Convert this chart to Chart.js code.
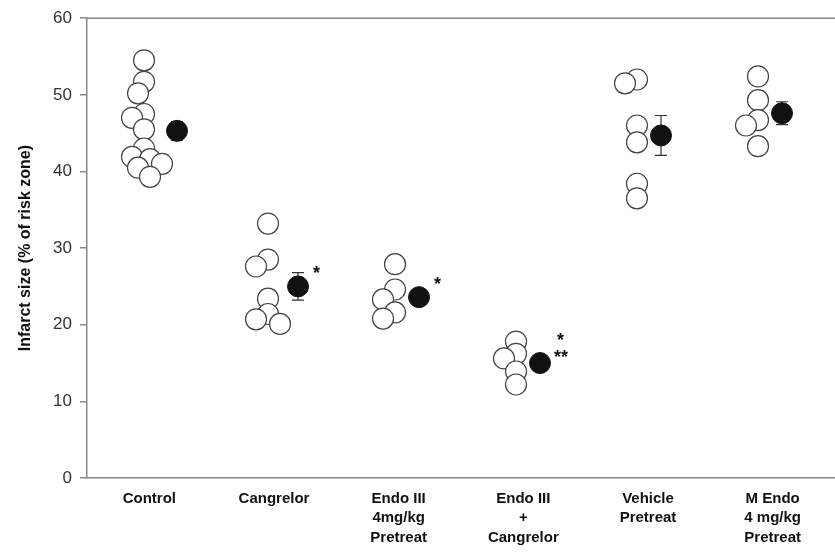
<!DOCTYPE html>
<html>
<head>
<meta charset="utf-8">
<script src="https://cdn.jsdelivr.net/npm/chart.js@4"></script>
<style>
  html, body { margin: 0; padding: 0; background: #fff; }
  #wrap { width: 835px; height: 553px; }
</style>
</head>
<body>
<div id="wrap"><canvas id="infarct-chart" width="835" height="553"></canvas></div>
<script>
// group labels (multi-line)
const groupLabels = [
    'Control',
    'Cangrelor',
    ['Endo III', '4mg/kg', 'Pretreat'],
    ['Endo III', '+', 'Cangrelor'],
    ['Vehicle', 'Pretreat'],
    ['M Endo', '4 mg/kg', 'Pretreat']
];

// individual animals, infarct size (% of risk zone)
const control    = [54.5, 51.7, 50.2, 47.5, 47.0, 45.5, 43.0, 41.9, 41.6, 41.0, 40.5, 39.3];
const cangrelor  = [33.2, 28.5, 27.6, 23.4, 21.4, 20.7, 20.1];
const endoIII    = [27.9, 24.6, 23.3, 21.6, 20.8];
const endoCang   = [17.8, 16.2, 15.6, 13.9, 12.2];
const vehicle    = [52.0, 51.5, 46.0, 43.8, 38.4, 36.5];
const mEndo      = [52.4, 49.3, 46.7, 46.0, 43.3];

// group mean and SEM
const groupMeans = [45.3, 25.0, 23.6, 15.0, 44.7, 47.6];
const groupSem   = [1.2, 1.8, 1.0, 0.9, 2.6, 1.5];

// significance marks next to the means
const sigMarks = ['', '*', '*', '*\n**', '', ''];

const yTicks = [0, 10, 20, 30, 40, 50, 60];

const groups = [control, cangrelor, endoIII, endoCang, vehicle, mEndo];

const FONT = '"Liberation Sans", Arial, Helvetica, sans-serif';
const MEAN_SHIFT = 0.248;   // filled dot sits right of the open dots

// simple greedy beeswarm: returns pixel x offsets for pixel y positions
function swarm(ys, minDist, step) {
    var placed = [];
    var offs = [];
    var cands = [0];
    for (var k = 1; k < 6; k++) { cands.push(-k * step, k * step); }
    ys.forEach(function(y) {
        var chosen = cands[cands.length - 1];
        for (var c = 0; c < cands.length; c++) {
            var ok = placed.every(function(p) {
                var dx = p.x - cands[c], dy = p.y - y;
                return Math.sqrt(dx * dx + dy * dy) >= minDist;
            });
            if (ok) { chosen = cands[c]; break; }
        }
        placed.push({x: chosen, y: y});
        offs.push(chosen);
    });
    // center the cluster on the group position
    var mid = (Math.max.apply(null, offs) + Math.min.apply(null, offs)) / 2;
    return offs.map(function(o) { return o - mid; });
}

// error bars behind the filled dots
const errorBars = {
    id: 'errorBars',
    beforeDatasetsDraw(chart) {
        const c = chart.ctx, xs = chart.scales.x, ys = chart.scales.y;
        c.save();
        c.strokeStyle = '#333';
        c.lineWidth = 1.2;
        groupMeans.forEach(function(m, i) {
            var x = xs.getPixelForValue(i + 1 + MEAN_SHIFT);
            var yt = ys.getPixelForValue(m + groupSem[i]);
            var yb = ys.getPixelForValue(m - groupSem[i]);
            c.beginPath();
            c.moveTo(x, yt); c.lineTo(x, yb);
            c.moveTo(x - 6, yt); c.lineTo(x + 6, yt);
            c.moveTo(x - 6, yb); c.lineTo(x + 6, yb);
            c.stroke();
        });
        c.restore();
    },
    afterDatasetsDraw(chart) {
        const c = chart.ctx, xs = chart.scales.x, ys = chart.scales.y;
        c.save();
        c.fillStyle = '#111';
        c.font = 'bold 18px ' + FONT;
        c.textAlign = 'left';
        c.textBaseline = 'middle';
        sigMarks.forEach(function(mark, i) {
            if (!mark) return;
            var x = xs.getPixelForValue(i + 1 + MEAN_SHIFT);
            var y = ys.getPixelForValue(groupMeans[i]);
            var lines = mark.split('\n');
            if (lines.length === 1) {
                c.fillText(lines[0], x + 15, y - 12);
            } else {
                c.fillText(lines[0], x + 17, y - 22);
                c.fillText(lines[1], x + 14, y - 5);
            }
        });
        // top frame line
        const a = chart.chartArea;
        c.strokeStyle = '#888';
        c.lineWidth = 1.5;
        c.beginPath();
        c.moveTo(a.left, a.top);
        c.lineTo(a.right, a.top);
        c.stroke();
        c.restore();
    }
};

var openPoints = [];
var meanPoints = groupMeans.map(function(m, i) { return {x: i + 1 + MEAN_SHIFT, y: m}; });

var ctx = document.getElementById('infarct-chart');

var chart = new Chart(ctx, {
    type: 'scatter',
    data: {
        datasets: [{
            label: 'Mean',
            data: meanPoints,
            backgroundColor: '#111',
            borderColor: '#111',
            borderWidth: 1,
            pointRadius: 10.5
        }, {
            label: 'Individual',
            data: openPoints,
            backgroundColor: '#fff',
            borderColor: '#444',
            borderWidth: 1.2,
            pointRadius: 10.5
        }]
    },
    options: {
        responsive: false,
        animation: false,
        events: [],
        layout: { autoPadding: false, padding: { top: 15, right: 0, left: 0, bottom: 0 } },
        plugins: {
            legend: { display: false },
            tooltip: { enabled: false }
        },
        scales: {
            x: {
                type: 'linear',
                display: false,
                min: 0.504,
                max: 6.686
            },
            xLab: {
                type: 'category',
                labels: groupLabels,
                position: 'bottom',
                offset: true,
                grid: { display: false, drawTicks: false },
                border: { color: '#888', width: 1.5 },
                ticks: {
                    autoSkip: false,
                    maxRotation: 0,
                    padding: 11,
                    color: '#111',
                    font: { family: FONT, size: 15, weight: 'bold', lineHeight: 1.3 }
                },
                afterFit: function(s) {
                    s.height = 75;
                    s.paddingLeft = 0;
                    s.paddingRight = 0;
                }
            },
            y: {
                min: 0,
                max: 60,
                afterBuildTicks: function(s) { s.ticks = yTicks.map(function(v) { return {value: v}; }); },
                ticks: {
                    padding: 8,
                    color: '#333',
                    font: { family: FONT, size: 17 }
                },
                grid: { drawOnChartArea: false, tickLength: 7, color: '#888', lineWidth: 1.5 },
                border: { color: '#888', width: 1.5 },
                title: {
                    display: true,
                    text: 'Infarct size (% of risk zone)',
                    color: '#111',
                    font: { family: FONT, size: 16, weight: 'bold' },
                    padding: { top: 16, bottom: 0 }
                },
                afterFit: function(s) { s.width = 87; }
            }
        }
    },
    plugins: [errorBars]
});

// place the open dots now that the scales exist
var xs = chart.scales.x, ys = chart.scales.y;
var pxPerUnit = xs.getPixelForValue(2) - xs.getPixelForValue(1);
groups.forEach(function(vals, g) {
    var offs = swarm(vals.map(function(v) { return ys.getPixelForValue(v); }), 12, 6);
    vals.forEach(function(v, k) {
        openPoints.push({x: g + 1 + offs[k] / pxPerUnit, y: v});
    });
});
chart.update('none');
</script>
</body>
</html>
